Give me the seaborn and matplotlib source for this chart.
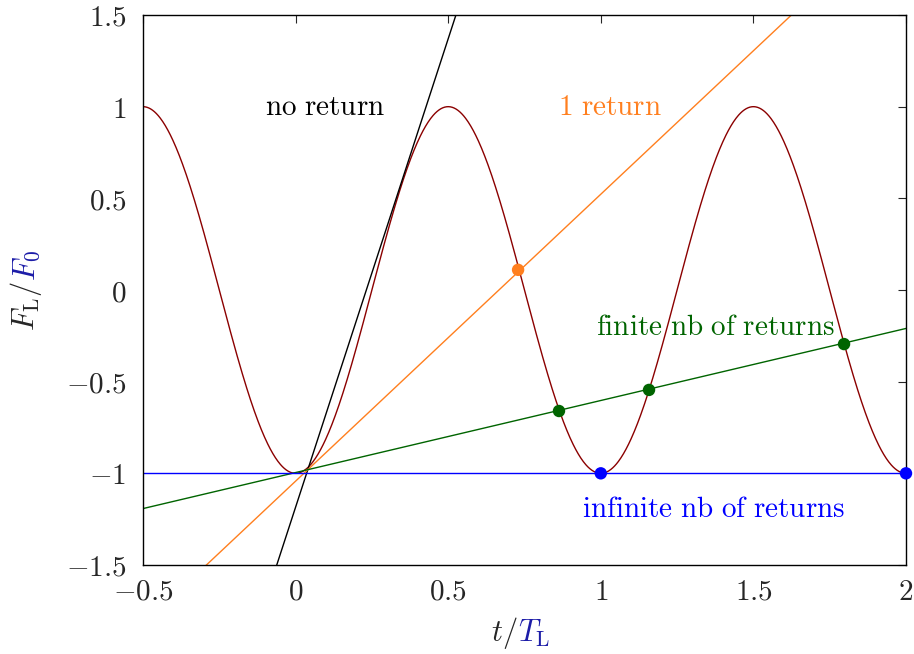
import numpy as np
import matplotlib
matplotlib.use("Agg")
import matplotlib.pyplot as plt
import seaborn as sns

# ── data ────────────────────────────────────────────────────────────────
t_grid = np.linspace(-0.5, 2.0, 1200)
field = -np.cos(2 * np.pi * t_grid)          # F_L / F_0

t0, f0 = 0.04, -0.98                         # common starting point of the lines
line_slopes = [5.11, 1.565, 0.393]
line_colors = ["black", "#ff7f1e", "#006400"]
blue_level = -1.0

orange_pts_t = [0.729]
orange_pts_f = [0.11]
green_pts_t = [0.863, 1.158, 1.797]
green_pts_f = [-0.66, -0.545, -0.295]
blue_pts_t = [1.0, 2.0]
blue_pts_f = [-1.0, -1.0]

x_ticks = [-0.5, 0, 0.5, 1, 1.5, 2]
x_tick_labels = ["$-0.5$", "$0$", "$0.5$", "$1$", "$1.5$", "$2$"]
y_ticks = [-1.5, -1, -0.5, 0, 0.5, 1, 1.5]
y_tick_labels = ["$-1.5$", "$-1$", "$-0.5$", "$0$", "$0.5$", "$1$", "$1.5$"]

# ── figure ──────────────────────────────────────────────────────────────
sns.set_style("white")
plt.rcParams["mathtext.fontset"] = "cm"
plt.rcParams["font.family"] = ["DejaVu Serif"]

fig = plt.figure(figsize=(9.14, 6.54), dpi=100)
ax = fig.add_axes([143 / 914, 1 - 565 / 654, 763 / 914, 550 / 654])

sns.lineplot(x=t_grid, y=field, color="#8b0000", lw=1.0, ax=ax)

t_ends = np.array([-0.5, 2.0])
for slope, col in zip(line_slopes, line_colors):
    sns.lineplot(x=t_ends, y=f0 + slope * (t_ends - t0), color=col, lw=1.0, ax=ax)
sns.lineplot(x=t_ends, y=[blue_level, blue_level], color="#0000ff", lw=1.0, ax=ax)

for ts, fs, col in [(orange_pts_t, orange_pts_f, "#ff7f1e"),
                    (green_pts_t, green_pts_f, "#006400"),
                    (blue_pts_t, blue_pts_f, "#0000ff")]:
    sns.scatterplot(x=ts, y=fs, color=col, s=80, edgecolor="none",
                    zorder=5, clip_on=False, ax=ax)

ax.set_xlim(-0.5, 2.0)
ax.set_ylim(-1.5, 1.5)
ax.set_xticks(x_ticks)
ax.set_xticklabels(x_tick_labels)
ax.set_yticks(y_ticks)
ax.set_yticklabels(y_tick_labels)
ax.tick_params(direction="in", top=True, right=True, length=6,
               width=0.8, labelsize=21)
ax.tick_params(axis="x", pad=9)
ax.tick_params(axis="y", pad=12)
for sp in ax.spines.values():
    sp.set_color("black")
    sp.set_linewidth(1.0)

txt = dict(fontsize=21, ha="center", va="center")
ax.text(0.096, 1.0, r"$\mathrm{no\ return}$", color="black", **txt)
ax.text(1.03, 1.0, r"$\mathrm{1\ return}$", color="#ff7f1e", **txt)
ax.text(1.377, -0.2, r"$\mathrm{finite\ nb\ of\ returns}$", color="#006400", **txt)
ax.text(1.368, -1.195, r"$\mathrm{infinite\ nb\ of\ returns}$", color="#0000ff", **txt)

# axis labels with the reference quantities in blue
xl_x, xl_y = 518 / 914, 1 - 633 / 654
fig.text(xl_x, xl_y, r"$t/$", fontsize=22, ha="right", va="center")
fig.text(xl_x, xl_y, r"$T_{\mathrm{L}}$", fontsize=22,
         ha="left", va="center", color="#1c1ca8")
yl_x, yl_y = 26 / 914, 1 - 281 / 654
fig.text(yl_x, yl_y, r"$F_{\mathrm{L}}/$", fontsize=22,
         rotation=90, ha="center", va="top")
fig.text(yl_x, yl_y, r"$F_0$", fontsize=22,
         rotation=90, ha="center", va="bottom", color="#1c1ca8")

fig.savefig("out.png", dpi=100)
